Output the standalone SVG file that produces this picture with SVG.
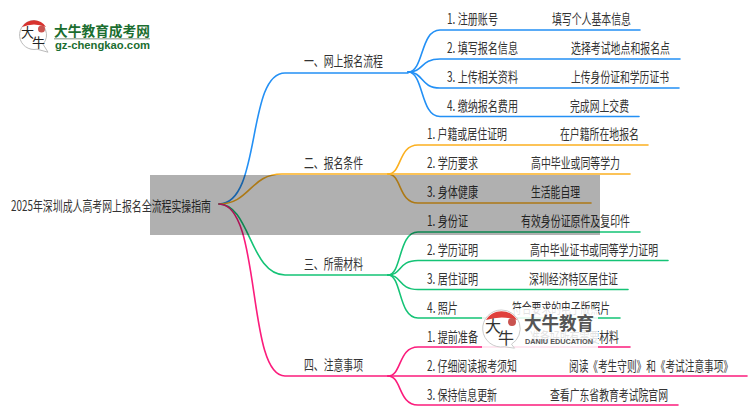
<svg xmlns="http://www.w3.org/2000/svg" width="750" height="410" viewBox="0 0 750 410">
<style>
text{font-family:"Noto Sans CJK SC","Liberation Sans",sans-serif;font-size:14px;fill:#333}
.c{fill:none;stroke-width:1.6;stroke-linecap:round}
.b{stroke:#2390f5}.o{stroke:#fbb020}.g{stroke:#14c376}.p{stroke:#fb1c7c}
</style>
<rect width="750" height="410" fill="#fff"/>
<g id="connectors">
<path class="c b" d="M219 204C262 204 246 73 285 73H408"/>
<path class="c b" d="M408 72C424 72 420 30 440 30H640"/>
<path class="c b" d="M408 72C424 72 420 59 440 59H680"/>
<path class="c b" d="M408 72C424 72 420 88 440 88H679"/>
<path class="c b" d="M408 72C424 72 420 116.500 440 116.500H639"/>
<path class="c o" d="M219 204C250 204 250 174 282 174H388"/>
<path class="c o" d="M388 174C402 174 398 145 418 145H648"/>
<path class="c o" d="M388 174H630"/>
<path class="c o" d="M388 174C402 174 398 203 418 203H591"/>
<path class="c g" d="M219 204C250 204 250 275 285 275H388"/>
<path class="c g" d="M388 275C402 275 398 232 418 232H640"/>
<path class="c g" d="M388 275C402 275 398 260.500 418 260.500H668"/>
<path class="c g" d="M388 275C402 275 398 289.500 418 289.500H628"/>
<path class="c g" d="M388 275C402 275 398 318 418 318H620"/>
<path class="c p" d="M219 204C262 204 246 376 285 376H388"/>
<path class="c p" d="M388 376C402 376 398 347 418 347H630"/>
<path class="c p" d="M388 376H747"/>
<path class="c p" d="M388 376C402 376 398 405 418 405H678"/>
</g>
<g id="root"><text x="11" y="211" textLength="200" lengthAdjust="spacingAndGlyphs">2025年深圳成人高考网上报名全流程实操指南</text></g>
<g id="n1"><text x="304" y="66" textLength="79" lengthAdjust="spacingAndGlyphs">一、网上报名流程</text></g>
<g id="n2"><text x="304" y="168" textLength="59" lengthAdjust="spacingAndGlyphs">二、报名条件</text></g>
<g id="n3"><text x="304" y="269" textLength="59" lengthAdjust="spacingAndGlyphs">三、所需材料</text></g>
<g id="n4"><text x="304" y="370" textLength="59" lengthAdjust="spacingAndGlyphs">四、注意事项</text></g>
<g id="n1-1"><text x="447" y="24" textLength="51" lengthAdjust="spacingAndGlyphs">1. 注册账号</text><text x="552" y="24" textLength="79" lengthAdjust="spacingAndGlyphs">填写个人基本信息</text></g>
<g id="n1-2"><text x="447" y="53" textLength="71" lengthAdjust="spacingAndGlyphs">2. 填写报名信息</text><text x="571" y="53" textLength="99" lengthAdjust="spacingAndGlyphs">选择考试地点和报名点</text></g>
<g id="n1-3"><text x="447" y="82" textLength="71" lengthAdjust="spacingAndGlyphs">3. 上传相关资料</text><text x="571" y="82" textLength="98" lengthAdjust="spacingAndGlyphs">上传身份证和学历证书</text></g>
<g id="n1-4"><text x="447" y="111" textLength="71" lengthAdjust="spacingAndGlyphs">4. 缴纳报名费用</text><text x="570" y="111" textLength="59" lengthAdjust="spacingAndGlyphs">完成网上交费</text></g>
<g id="n2-1"><text x="427" y="139" textLength="80" lengthAdjust="spacingAndGlyphs">1. 户籍或居住证明</text><text x="560" y="139" textLength="79" lengthAdjust="spacingAndGlyphs">在户籍所在地报名</text></g>
<g id="n2-2"><text x="427" y="168" textLength="51" lengthAdjust="spacingAndGlyphs">2. 学历要求</text><text x="531" y="168" textLength="89" lengthAdjust="spacingAndGlyphs">高中毕业或同等学力</text></g>
<g id="n2-3"><text x="427" y="197" textLength="51" lengthAdjust="spacingAndGlyphs">3. 身体健康</text><text x="531" y="197" textLength="49" lengthAdjust="spacingAndGlyphs">生活能自理</text></g>
<g id="n3-1"><text x="427" y="226" textLength="41" lengthAdjust="spacingAndGlyphs">1. 身份证</text><text x="521" y="226" textLength="109" lengthAdjust="spacingAndGlyphs">有效身份证原件及复印件</text></g>
<g id="n3-2"><text x="427" y="255" textLength="51" lengthAdjust="spacingAndGlyphs">2. 学历证明</text><text x="530" y="255" textLength="128" lengthAdjust="spacingAndGlyphs">高中毕业证书或同等学力证明</text></g>
<g id="n3-3"><text x="427" y="284" textLength="51" lengthAdjust="spacingAndGlyphs">3. 居住证明</text><text x="529" y="284" textLength="89" lengthAdjust="spacingAndGlyphs">深圳经济特区居住证</text></g>
<g id="n3-4"><text x="427" y="313" textLength="31" lengthAdjust="spacingAndGlyphs">4. 照片</text><text x="512" y="313" textLength="98" lengthAdjust="spacingAndGlyphs">符合要求的电子版照片</text></g>
<g id="n4-1"><text x="427" y="342" textLength="51" lengthAdjust="spacingAndGlyphs">1. 提前准备</text><text x="530" y="342" textLength="89" lengthAdjust="spacingAndGlyphs">准备好所有需要材料</text></g>
<g id="n4-2"><text x="427" y="371" textLength="90" lengthAdjust="spacingAndGlyphs">2. 仔细阅读报考须知</text><text x="569" y="371" textLength="164" lengthAdjust="spacingAndGlyphs">阅读《考生守则》和《考试注意事项》</text></g>
<g id="n4-3"><text x="427" y="400" textLength="70" lengthAdjust="spacingAndGlyphs">3. 保持信息更新</text><text x="550" y="400" textLength="118" lengthAdjust="spacingAndGlyphs">查看广东省教育考试院官网</text></g>
<g id="logo">
<path d="M34 20.500a14.500 14.500 0 1 0 3 28.700l11 3-5-8a14.500 14.500 0 0 0-9-23.700z" fill="#fff" stroke="#bbb" stroke-width="1"/>
<path d="M22 27a14 14 0 0 1 24 0q-12-5-24 0z" fill="#d8322e"/>
<circle cx="41.500" cy="29" r="3.500" fill="#c9534f"/>
<text x="21" y="37" style="font-size:13px;fill:#222">大</text>
<text x="32" y="47" style="font-size:13px;fill:#222">牛</text>
<text x="54" y="35.500" textLength="96" lengthAdjust="spacingAndGlyphs" style="font-weight:700;fill:#1b6e30">大牛教育成考网</text>
<rect x="54" y="38" width="96" height="1.500" fill="#a9b5a9"/>
<text x="55" y="48.500" textLength="95" lengthAdjust="spacingAndGlyphs" style="font-family:'Liberation Sans',sans-serif;font-size:11px;font-weight:700;fill:#1b6e30">gz-chengkao.com</text>
</g>
<rect id="overlay" x="150" y="175" width="450" height="60" fill="#000" opacity=".31"/>
<g id="watermark">
<rect x="482" y="309" width="116" height="42" fill="#fff" fill-opacity=".86"/>
<path d="M501.500 310a18.500 18.500 0 1 0 3 36.700l10 1.500-3-4a18.500 18.500 0 0 0-10-34.200z" fill="#fff" stroke="#ccc"/>
<path d="M486 320a18 18 0 0 1 31 0q-15-5-31 0z" fill="#e0403c"/>
<circle cx="512" cy="322" r="4" fill="#c9534f"/>
<text x="485" y="332" style="font-size:16px;fill:#333">大</text>
<text x="498" y="344" style="font-size:16px;fill:#333">牛</text>
<text x="524" y="330" textLength="70" lengthAdjust="spacingAndGlyphs" style="font-size:18px;font-weight:700;fill:#555">大牛教育</text>
<text x="525" y="344" textLength="68" lengthAdjust="spacingAndGlyphs" style="font-family:'Liberation Sans',sans-serif;font-size:7.500px;font-weight:700;fill:#555">DANIU EDUCATION</text>
</g>
</svg>
